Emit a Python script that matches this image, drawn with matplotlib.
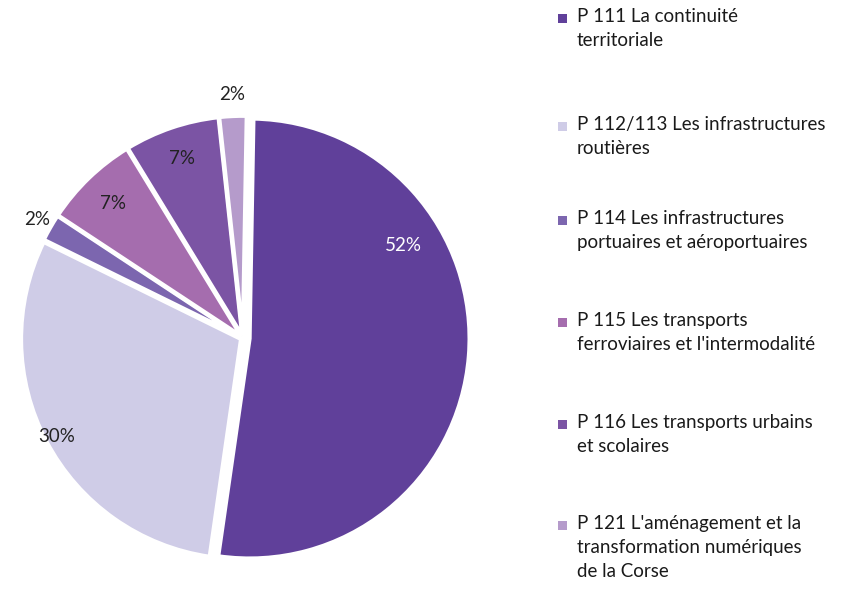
import matplotlib
matplotlib.use("Agg")
import matplotlib.pyplot as plt
from matplotlib.patches import Rectangle
import numpy as np

plt.rcParams['font.family'] = ['Lato', 'DejaVu Sans']

labels = ["P 111 La continuité\nterritoriale",
          "P 112/113 Les infrastructures\nroutières",
          "P 114 Les infrastructures\nportuaires et aéroportuaires",
          "P 115 Les transports\nferroviaires et l'intermodalité",
          "P 116 Les transports urbains\net scolaires",
          "P 121 L'aménagement et la\ntransformation numériques\nde la Corse"]
values = [52, 30, 2, 7, 7, 2]
colors = ["#60409A", "#CFCCE7", "#7C66AF", "#A56DAE", "#7B54A4", "#B59BCB"]
pct_colors = ["white", "#222222", "#222222", "#222222", "#222222", "#222222"]
pct_radius = [0.84, 0.96, 1.08, 0.85, 0.86, 1.11]
pct_angle_override = [30, None, None, None, None, None]
explode = [0.03, 0.01, 0.01, 0.01, 0.01, 0.01]

W, H = 859, 591
fig = plt.figure(figsize=(W/100, H/100), dpi=100)
cx, cy, R = 243, 338, 220
lim = 1.15
size = 2*lim*R
ax = fig.add_axes([(cx - size/2)/W, (H - cy - size/2)/H, size/W, size/H])
wedges, _ = ax.pie(values, colors=colors, startangle=89, counterclock=False,
                   explode=explode,
                   wedgeprops=dict(edgecolor="white", linewidth=3))
ax.set_xlim(-lim, lim)
ax.set_ylim(-lim, lim)
ax.set_aspect('equal')
ax.axis('off')

for w, v, r, a, c in zip(wedges, values, pct_radius, pct_angle_override, pct_colors):
    ang = a if a is not None else (w.theta1 + w.theta2) / 2
    x = r * np.cos(np.radians(ang))
    y = r * np.sin(np.radians(ang))
    ax.text(x, y, f"{v}%", ha="center", va="center", fontsize=13.5, color=c)

legend_y = [18, 126, 220, 322, 424, 525]
for lab, col, ly in zip(labels, colors, legend_y):
    fig.patches.append(Rectangle((558/W, (H - ly - 5)/H), 9/W, 9/H,
                                 transform=fig.transFigure, facecolor=col,
                                 edgecolor="none"))
    fig.text(577/W, (H - ly + 10)/H, lab, ha="left", va="top", fontsize=13.5,
             color="#1a1a1a", linespacing=1.5)

fig.savefig("out.png", dpi=100)
